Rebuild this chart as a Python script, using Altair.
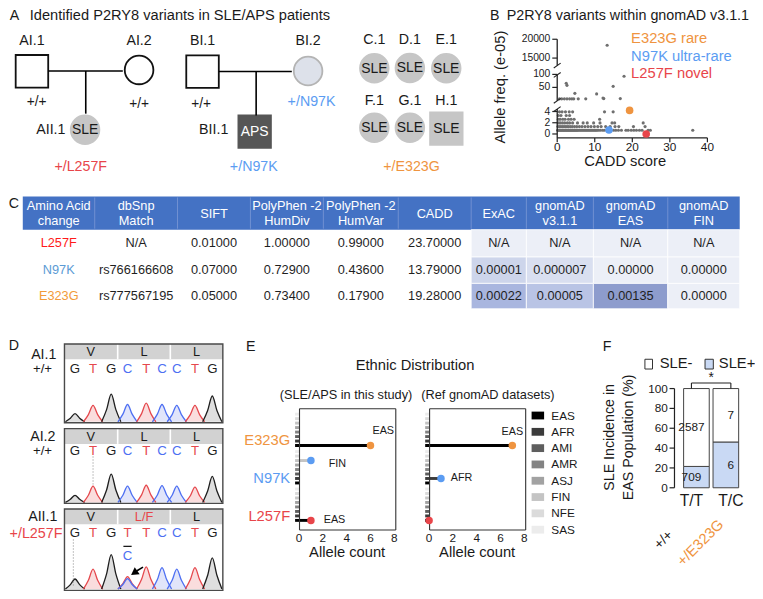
import altair as alt
import pandas as pd

# ======================= DATA =======================
# Panel A - pedigrees
pedigree_ids = ["AI.1", "AI.2", "AII.1", "BI.1", "BI.2", "BII.1",
                "C.1", "D.1", "E.1", "F.1", "G.1", "H.1"]
pedigree_sex = ["M", "F", "F", "M", "F", "M", "F", "F", "F", "F", "F", "M"]
pedigree_status = ["unaffected", "unaffected", "SLE", "unaffected", "carrier", "APS",
                   "SLE", "SLE", "SLE", "SLE", "SLE", "SLE"]
pedigree_parent_genotypes = ["+/+", "+/+", "+/+", "+/N97K"]
family_genotypes = ["+/L257F", "+/N97K", "+/E323G"]

# Panel B - gnomAD variants (CADD score, allele frequency e-05)
cadd_at_066 = [0.1, 0.3, 0.5, 0.7, 0.9, 1.1, 1.3, 1.5, 1.7, 1.9, 2.1, 2.3, 2.5, 2.7, 2.9,
               3.1, 3.3, 3.5, 3.7, 3.9, 4.1, 4.3, 4.5, 4.7, 4.9, 5.1, 5.3, 5.5, 5.8, 6.1,
               6.4, 6.7, 7.0, 7.3, 7.6, 7.9, 8.2, 8.5, 8.8, 9.1, 9.4, 9.7, 10.0, 10.3,
               10.6, 11.0, 11.5, 12.1, 12.6, 15.0, 15.6, 16.3, 17.1, 18.3, 18.9, 19.7,
               20.4, 21.1, 21.9, 22.6, 24.2, 24.8, 36.1]
cadd_at_131 = [0.2, 0.6, 1.0, 1.4, 1.8, 2.2, 2.6, 3.0, 3.5, 4.0, 4.6, 5.2, 5.9, 6.6, 7.4,
               8.2, 9.0, 9.9, 10.8, 11.7, 12.9, 14.1, 15.4, 16.4, 20.3, 23.4]
cadd_at_197 = [0.3, 0.8, 1.4, 2.0, 2.7, 3.3, 4.1, 5.4, 6.9, 8.0, 9.7, 11.4, 14.6, 15.3, 22.9]
cadd_at_263 = [0.3, 0.8, 1.5, 2.1, 3.0, 3.7, 4.5, 11.3]
cadd_at_329 = [0.3, 1.0, 2.4, 3.3]
cadd_at_394 = [0.6, 1.3, 2.2, 3.2, 4.1, 12.6, 14.9]
high_cadd = [0.6, 1.2, 1.9, 2.6, 3.3, 3.9, 4.4, 5.6, 7.6, 12.4, 16.8, 12.2, 10.5, 4.7,
             14.9, 2.6, 2.4, 17.8, 13.3]
high_freq = [6, 6, 6, 6, 6, 6, 6, 6, 6, 7, 7, 9, 25, 27, 54, 58, 66, 93, 18400]
variant_names = ["E323G", "N97K", "L257F"]
variant_cadd = [19.28, 13.79, 23.70]
variant_freq = [4.2, 0.7, 0.0]
variant_legend = ["E323G rare", "N97K ultra-rare", "L257F novel"]

# Panel C - table
table_header = ["Amino Acid\nchange", "dbSnp\nMatch", "SIFT", "PolyPhen -2\nHumDiv",
                "PolyPhen -2\nHumVar", "CADD", "ExAC", "gnomAD\nv3.1.1", "gnomAD\nEAS",
                "gnomAD\nFIN"]
t_variant = ["L257F", "N97K", "E323G"]
t_dbsnp = ["N/A", "rs766166608", "rs777567195"]
t_sift = ["0.01000", "0.07000", "0.05000"]
t_humdiv = ["1.00000", "0.72900", "0.73400"]
t_humvar = ["0.99000", "0.43600", "0.17900"]
t_cadd = ["23.70000", "13.79000", "19.28000"]
t_exac = ["N/A", "0.00001", "0.00022"]
t_gnomad = ["N/A", "0.000007", "0.00005"]
t_eas = ["N/A", "0.00000", "0.00135"]
t_fin = ["N/A", "0.00000", "0.00000"]

# Panel D - chromatograms
chrom_samples = ["AI.1", "AI.2", "AII.1"]
chrom_genotypes = ["+/+", "+/+", "+/L257F"]
base_calls = ["GTGCTCCTG", "GTGCTCCTG", "GTGTTCCTG"]
codon_labels = [["V", "L", "L"], ["V", "L", "L"], ["V", "L/F", "L"]]
peak_pos = [0.0, 1.05, 2.11, 3.06, 4.15, 5.07, 5.93, 6.99, 8.0]
peak_height = [[8.3, 16.7, 28.3, 17.7, 19.0, 17.7, 16.7, 16.7, 26.4],
               [7.3, 16.6, 29.0, 16.6, 17.6, 17.3, 16.6, 15.6, 26.6],
               [10.3, 20.3, 35.3, 12.7, 22.7, 22.0, 20.3, 22.0, 32.0]]
secondary_base = "C"
secondary_index = 3
secondary_height = 10.7

# Panel E - ethnic distribution
e_variants = ["E323G", "N97K", "L257F"]
populations = ["EAS", "AFR", "AMI", "AMR", "ASJ", "FIN", "NFE", "SAS"]
study_counts = [[6, 0, 0, 0, 0, 0, 0, 0], [0, 0, 0, 0, 0, 1, 0, 0], [1, 0, 0, 0, 0, 0, 0, 0]]
gnomad_counts = [[7, 0, 0, 0, 0, 0, 0, 0], [0, 1, 0, 0, 0, 0, 0, 0], [0, 0, 0, 0, 0, 0, 0, 0]]
e_ticks = [0, 2, 4, 6, 8]

# Panel F - SLE incidence
f_genotypes = ["T/T", "T/C"]
f_sle_neg = [2587, 7]
f_sle_pos = [709, 6]
f_ticks = [0, 20, 40, 60, 80, 100]

# ======================= LAYOUT / STYLE =======================
W, H = 747, 583
KX, KY = W / 758.0, H / 597.0
OX, OY = 2.0, 2.0
FONT = "Liberation Sans"
RED, BLUE, ORANGE = "#e8454a", "#5b9cf2", "#ef9440"
VCOL = {"E323G": ORANGE, "N97K": BLUE, "L257F": RED}


def X(v):
    return (v - OX) * KX


def Y(v):
    return (v - OY) * KY


def FS(v):
    return round(v * (KX + KY) / 2, 2)


def qs(domain, r0, r1, axis="x"):
    rng = [X(r0), X(r1)] if axis == "x" else [Y(r0), Y(r1)]
    return alt.Scale(domain=domain, range=rng, nice=False, zero=False)


CXS = qs([0, 763], 0, 763, "x")
CYS = qs([0, 599], 0, 599, "y")


def exy(xf="x", yf="y", xs=CXS, ys=CYS):
    return dict(x=alt.X(f"{xf}:Q", scale=xs, axis=None),
                y=alt.Y(f"{yf}:Q", scale=ys, axis=None))


layers = []


def add_text(rows, size, color="#1a1a1a", align="center", baseline="middle", angle=0, **kw):
    df = pd.DataFrame(rows, columns=["x", "y", "t"])
    layers.append(alt.Chart(df).mark_text(font=FONT, fontSize=FS(size), color=color,
                                          align=align, baseline=baseline, angle=angle, **kw)
                  .encode(**exy(), text="t:N"))


def add_rules(segs, color="#000000", width=1.5, dash=None, **kw):
    df = pd.DataFrame(segs, columns=["x", "y", "x2", "y2"])
    mk = dict(color=color, strokeWidth=width, **kw)
    if dash:
        mk["strokeDash"] = dash
    layers.append(alt.Chart(df).mark_rule(**mk).encode(**exy(), x2="x2:Q", y2="y2:Q"))


def add_rects(rows, stroke=None, width=0.0, **kw):
    df = pd.DataFrame(rows, columns=["x", "y", "x2", "y2", "fill"])
    mk = dict(strokeWidth=width, **kw)
    if stroke:
        mk["stroke"] = stroke
    layers.append(alt.Chart(df).mark_rect(**mk).encode(**exy(), x2="x2:Q", y2="y2:Q",
                                                       fill=alt.Fill("fill:N", scale=None)))


# ---------------- Panel A ----------------
add_text([(8.5, 10.5, "A")], 14.5)
add_text([(24.1, 10.5, "Identified P2RY8 variants in SLE/APS patients")], 14.9, align="left")

PED_POS = {"AI.1": (26.3, 66.8), "AI.2": (135.0, 65.4), "AII.1": (80.2, 126.7),
           "BI.1": (199.4, 67.2), "BI.2": (306.5, 66.5), "BII.1": (252.3, 128.6),
           "C.1": (373.7, 63.7), "D.1": (409.8, 63.4), "E.1": (446.7, 63.7),
           "F.1": (373.7, 124.7), "G.1": (409.8, 124.7), "H.1": (446.8, 125.5)}
ST_FILL = {"unaffected": "#ffffff", "SLE": "#c6c6c6", "carrier": "#dde1ea", "APS": "#565656"}
ST_STROKE = {"unaffected": "#111111", "SLE": "#c6c6c6", "carrier": "#b4b4b4", "APS": "#565656"}
SHAPE = {"M": "square", "F": "circle"}
SIZE = {"M": (33.0 * KX) ** 2, "F": 3.14159 * (16.4 * KX) ** 2}
prow = []
for pid, sx, st in zip(pedigree_ids, pedigree_sex, pedigree_status):
    x, y = PED_POS[pid]
    prow.append(dict(x=x, y=y, shape=SHAPE[sx], size=SIZE[sx], fill=ST_FILL[st], stroke=ST_STROKE[st]))
layers.append(alt.Chart(pd.DataFrame(prow)).mark_point(filled=True, opacity=1, strokeWidth=1.8)
              .encode(**exy(), shape=alt.Shape("shape:N", scale=None),
                      size=alt.Size("size:Q", scale=None),
                      fill=alt.Fill("fill:N", scale=None),
                      stroke=alt.Stroke("stroke:N", scale=None)))
add_rules([(43.0, 66.5, 118.5, 66.5), (80.9, 66.5, 80.9, 110.2),
           (216.0, 67.0, 290.0, 67.0), (253.8, 67.0, 253.8, 112.0)], width=1.6)
dis = [(PED_POS[p][0], PED_POS[p][1] + 0.5, "SLE") for p, s in zip(pedigree_ids, pedigree_status) if s == "SLE"]
add_text(dis, 14.2)
add_text([(PED_POS["BII.1"][0], PED_POS["BII.1"][1] + 0.5, "APS")], 14.2, color="#ffffff")
lab_above = []
for p in ["AI.1", "AI.2", "BI.1", "BI.2"]:
    lab_above.append((PED_POS[p][0], 36.2, p))
for p in ["C.1", "D.1", "E.1"]:
    lab_above.append((PED_POS[p][0], 34.4, p))
for p in ["F.1", "G.1", "H.1"]:
    lab_above.append((PED_POS[p][0], 97.1, p))
add_text(lab_above, 14.5)
add_text([(60.3, 127.4, "AII.1"), (225.6, 127.4, "BII.1")], 14.5, align="right")
add_text([(31.0, 98.2, pedigree_parent_genotypes[0]), (135.0, 99.9, pedigree_parent_genotypes[1]),
          (198.0, 99.9, pedigree_parent_genotypes[2])], 14)
add_text([(310.0, 98.2, pedigree_parent_genotypes[3])], 14.5, color=BLUE)
add_text([(75.8, 164.6, family_genotypes[0])], 14.5, color=RED)
add_text([(251.4, 164.6, family_genotypes[1])], 14.5, color=BLUE)
add_text([(411.5, 164.6, family_genotypes[2])], 14.5, color=ORANGE)

# ---------------- Panel B ----------------
add_text([(496.0, 10.5, "B")], 14.5)
add_text([(508.0, 10.5, "P2RY8 variants within gnomAD v3.1.1")], 14.6, align="left")
add_text([(502.0, 83.0, "Allele freq. (e-05)")], 15, angle=270)

B_X = qs([0, 40], 559.3, 711.7, "x")
B_SEG = {"low": ([0, 4.6], 131.0, 104.55), "mid": ([0, 100], 96.6, 70.0),
         "high": ([13000, 20000], 61.0, 34.0)}


def b_y(seg):
    d, r0, r1 = B_SEG[seg]
    return qs(d, r0, r1, "y")


brow = []
for f, xs in [(0.66, cadd_at_066), (1.31, cadd_at_131), (1.97, cadd_at_197),
              (2.63, cadd_at_263), (3.29, cadd_at_329), (3.94, cadd_at_394)]:
    for c in xs:
        brow.append(dict(cadd=c, freq=f))
for c, f in zip(high_cadd, high_freq):
    brow.append(dict(cadd=c, freq=f))
bdf = pd.DataFrame(brow)
bdf["seg"] = ["low" if f <= 4.6 else ("mid" if f <= 100 else "high") for f in bdf["freq"]]
for seg in ["low", "mid", "high"]:
    sub = bdf[bdf["seg"] == seg]
    layers.append(alt.Chart(sub).mark_circle(size=10, opacity=1, color="#6f6f6f")
                  .encode(**exy("cadd", "freq", B_X, b_y(seg))))
AXB = 559.3
add_rules([(AXB, 135.0, AXB, 105.5), (AXB, 97.0, AXB, 70.0), (AXB, 61.0, AXB, 34.0),
           (AXB, 135.0, 711.7, 135.0)], width=1.3, color="#222222")
add_rules([(AXB - 3.5, 108.0, AXB + 3.5, 103.0), (AXB - 3.5, 99.5, AXB + 3.5, 94.5),
           (AXB - 3.5, 73.0, AXB + 3.5, 68.0), (AXB - 3.5, 63.5, AXB + 3.5, 58.5)],
          width=1.1, color="#222222")
for seg, vals in [("low", [0, 2, 4]), ("mid", [50, 100]), ("high", [15000, 20000])]:
    tdf = pd.DataFrame({"v": vals, "t": [str(v) for v in vals]})
    layers.append(alt.Chart(tdf).mark_rule(color="#222222", strokeWidth=1.2)
                  .encode(y=alt.Y("v:Q", scale=b_y(seg), axis=None),
                          x=alt.value(X(AXB - 5)), x2=alt.value(X(AXB))))
    layers.append(alt.Chart(tdf).mark_text(font=FONT, fontSize=FS(10.5), align="right",
                                           baseline="middle", color="#1a1a1a")
                  .encode(y=alt.Y("v:Q", scale=b_y(seg), axis=None),
                          x=alt.value(X(AXB - 7)), text="t:N"))
xt = pd.DataFrame({"v": [0, 10, 20, 30, 40], "t": ["0", "10", "20", "30", "40"]})
layers.append(alt.Chart(xt).mark_rule(color="#222222", strokeWidth=1.2)
              .encode(x=alt.X("v:Q", scale=B_X, axis=None), y=alt.value(Y(135)), y2=alt.value(Y(139.5))))
layers.append(alt.Chart(xt).mark_text(font=FONT, fontSize=FS(12), baseline="middle", color="#1a1a1a")
              .encode(x=alt.X("v:Q", scale=B_X, axis=None), y=alt.value(Y(144.5)), text="t:N"))
add_text([(628.3, 160.0, "CADD score")], 15)
vdf = pd.DataFrame({"cadd": variant_cadd, "freq": variant_freq,
                    "c": [VCOL[v] for v in variant_names]})
layers.append(alt.Chart(vdf).mark_circle(size=58, opacity=1)
              .encode(**exy("cadd", "freq", B_X, b_y("low")), color=alt.Color("c:N", scale=None)))
for i, (lab, v) in enumerate(zip(variant_legend, variant_names)):
    add_text([(634.3, [34.0, 51.7, 70.0][i], lab)], 15, color=VCOL[v], align="left")

# ---------------- Panel C ----------------
add_text([(8.0, 203.0, "C")], 14.5)
CB = [17, 90, 174, 248, 322, 398, 472, 528, 596, 671.5, 744.5]
CR = [195, 229, 257, 284, 310]
add_rects([(CB[0], CR[0], CB[-1], CR[1], "#4472c4")])
add_rules([(b, CR[0] + 1, b, CR[1] - 1) for b in CB[1:-1]], color="#7b98d6", width=0.8)
hdr = []
hmid = (CR[0] + CR[1]) / 2 + 0.5
for i, h in enumerate(table_header):
    xc = (CB[i] + CB[i + 1]) / 2
    parts = h.split("\n")
    if len(parts) == 1:
        hdr.append((xc, hmid, parts[0]))
    else:
        hdr.append((xc, hmid - 7.3, parts[0]))
        hdr.append((xc, hmid + 7.3, parts[1]))
add_text(hdr, 13, color="#ffffff")
SHADE = {"N/A": "#eceff7", "0.00000": "#eceff7", "0.00001": "#cdd5eb", "0.000007": "#d9dff0",
         "0.00022": "#a9b6df", "0.00005": "#b9c4e5", "0.00135": "#8d9ccd"}
cols = [t_variant, t_dbsnp, t_sift, t_humdiv, t_humvar, t_cadd, t_exac, t_gnomad, t_eas, t_fin]
shade_rows = []
for r in range(3):
    for c in range(6, 10):
        shade_rows.append((CB[c], CR[r + 1], CB[c + 1], CR[r + 2], SHADE[cols[c][r]]))
add_rects(shade_rows, stroke="#ffffff", width=0.8)
TCOL = {"L257F": "#ff1a1a", "N97K": "#5b9bd5", "E323G": "#f29b3a"}
for r in range(3):
    yc = (CR[r + 1] + CR[r + 2]) / 2
    add_text([((CB[0] + CB[1]) / 2, yc, t_variant[r])], 13, color=TCOL[t_variant[r]])
    add_text([((CB[c] + CB[c + 1]) / 2, yc, cols[c][r]) for c in range(1, 10)], 13, color="#1f1f1f")

# ---------------- Panel D ----------------
add_text([(8.0, 348.3, "D")], 14.5)
BOX_L, BOX_R = 59.3, 220.0
BOXES = [(346.0, 426.7), (432.7, 509.3), (515.0, 598.5)]
BASELINE = [425.7, 508.3, 597.0]
LETTER_Y = [371.7, 455.7, 540.0]
D_X = qs([0, 8], 70.0, 209.3, "x")
BCOL = {"G": "#1e1e1e", "T": "#e5484d", "C": "#4d6ff2"}
BFILL = {"G": "#b9b9b9", "T": "#f3b4b4", "C": "#bcc6f5"}
SHAPE_DX = [-0.56, -0.27, 0.0, 0.27, 0.56]
SHAPE_FR = [0.0, 0.44, 1.0, 0.44, 0.0]
for b in range(3):
    top, bot = BOXES[b]
    d_y = qs([0, 40], BASELINE[b], BASELINE[b] - 40, "y")
    add_rects([(BOX_L, top, BOX_R, top + 15.7, "#d2d2d2")])
    add_rules([(113.3, top, 113.3, top + 15.7), (166.7, top, 166.7, top + 15.7)],
              color="#ffffff", width=1.6)
    for k, lab in enumerate(codon_labels[b]):
        add_text([([86.0, 140.0, 193.3][k], top + 8.3, lab)], 13,
                 color=(RED if "/" in lab else "#1a1a1a"))
    prow = []
    peaks = list(zip(range(9), base_calls[b], peak_height[b]))
    if b == 2:
        peaks.append((9, secondary_base, secondary_height))
    for pid, base, h in peaks:
        pos = peak_pos[secondary_index] if pid == 9 else peak_pos[pid]
        for dx, fr in zip(SHAPE_DX, SHAPE_FR):
            prow.append(dict(pid=pid, px=pos + dx, py=h * fr, fill=BFILL[base], col=BCOL[base]))
    pdf = pd.DataFrame(prow)
    layers.append(alt.Chart(pdf).mark_area(interpolate="monotone", fillOpacity=0.45)
                  .encode(x=alt.X("px:Q", scale=D_X, axis=None),
                          y=alt.Y("py:Q", scale=d_y, axis=None, stack=None),
                          detail="pid:N", fill=alt.Fill("fill:N", scale=None)))
    layers.append(alt.Chart(pdf).mark_line(interpolate="monotone", strokeWidth=1.3)
                  .encode(x=alt.X("px:Q", scale=D_X, axis=None),
                          y=alt.Y("py:Q", scale=d_y, axis=None),
                          detail="pid:N", stroke=alt.Stroke("col:N", scale=None)))
    ldf = pd.DataFrame({"p": peak_pos, "t": list(base_calls[b]),
                        "c": [BCOL[c] for c in base_calls[b]], "y": [LETTER_Y[b]] * 9})
    layers.append(alt.Chart(ldf).mark_text(font=FONT, fontSize=FS(13.5), baseline="middle")
                  .encode(x=alt.X("p:Q", scale=D_X, axis=None), y=alt.Y("y:Q", scale=CYS, axis=None),
                          text="t:N", color=alt.Color("c:N", scale=None)))
    add_rects([(BOX_L, top, BOX_R, bot, "transparent")], stroke="#4a4a4a", width=1.4)
add_rules([(88.3, 461.0, 88.3, 490.0), (68.3, 546.0, 68.3, 594.0)], color="#9a9a9a", width=0.8,
          dash=[1.5, 1.5])
sdf = pd.DataFrame({"p": [peak_pos[secondary_index]], "t": [secondary_base], "y": [563.3],
                    "a": [peak_pos[secondary_index] - 0.24], "b": [peak_pos[secondary_index] + 0.24],
                    "yl": [553.3]})
layers.append(alt.Chart(sdf).mark_text(font=FONT, fontSize=FS(13.5), color=BCOL["C"], baseline="middle")
              .encode(x=alt.X("p:Q", scale=D_X, axis=None), y=alt.Y("y:Q", scale=CYS, axis=None), text="t:N"))
layers.append(alt.Chart(sdf).mark_rule(color="#1a1a1a", strokeWidth=1.3)
              .encode(x=alt.X("a:Q", scale=D_X, axis=None), x2="b:Q", y=alt.Y("yl:Q", scale=CYS, axis=None)))
add_rules([(132.5, 578.5, 139.0, 574.5)], width=1.6)
adf = pd.DataFrame({"x": [130.0], "y": [580.5]})
layers.append(alt.Chart(adf).mark_point(shape="triangle-up", angle=235, size=75, filled=True,
                                        opacity=1, color="#000000").encode(**exy()))
add_text([(38.3, 357.8, chrom_samples[0]), (37.3, 441.8, chrom_samples[1]),
          (37.3, 523.5, chrom_samples[2])], 14.5)
add_text([(37.0, 372.0, chrom_genotypes[0]), (37.0, 456.0, chrom_genotypes[1])], 13.5)
add_text([(57.3, 540.5, chrom_genotypes[2])], 14.6, color=RED, align="right")

# ---------------- Panel E ----------------
add_text([(248.3, 349.3, "E")], 14.5)
add_text([(415.0, 368.3, "Ethnic Distribution")], 15)
add_text([(345.0, 398.3, "(SLE/APS in this study)"), (489.0, 398.3, "(Ref gnomAD datasets)")], 13)
POPCOL = ["#000000", "#3b3b3b", "#5e5e5e", "#838383", "#a2a2a2", "#c4c4c4", "#dbdbdb", "#ececec"]
E_Y = qs([0, 23.7], 417.9, 526.7, "y")
E_BOT = 536.5
LABEL_OFF = {
    (0, "E323G"): ("left", 2.0, -15.0), (0, "N97K"): ("left", 18.0, 3.5),
    (0, "L257F"): ("left", 13.0, -0.5), (1, "E323G"): ("center", 0.0, -14.0),
    (1, "N97K"): ("left", 10.0, -0.5)}
for k, (counts, x0, x8) in enumerate([(study_counts, 297.3, 394.0), (gnomad_counts, 429.3, 525.8)]):
    exs = qs([0, 8], x0, x8, "x")
    rows, dots = [], []
    for g, v in enumerate(e_variants):
        for p, pop in enumerate(populations):
            slot = g * 8.35 + (7 - p)
            rows.append(dict(start=-0.33, count=counts[g][p], slot=slot, col=POPCOL[p]))
            if counts[g][p] > 0 or (sum(counts[g]) == 0 and p == 0):
                dots.append(dict(v=v, count=counts[g][p], slot=slot, pop=pop, col=VCOL[v]))
    rdf = pd.DataFrame(rows)
    layers.append(alt.Chart(rdf).mark_rule(strokeWidth=2.9, strokeCap="butt")
                  .encode(x=alt.X("start:Q", scale=exs, axis=None), x2="count:Q",
                          y=alt.Y("slot:Q", scale=E_Y, axis=None),
                          stroke=alt.Stroke("col:N", scale=None)))
    add_rules([(x0 + 0.5, 412.3, x0 + 0.5, E_BOT), (x0 + 0.5, 412.3, x8 + 1.5, 412.3),
               (x8 + 1.5, 412.3, x8 + 1.5, E_BOT), (x0 + 0.5, E_BOT, x8 + 1.5, E_BOT)],
              color="#333333", width=1.1)
    ddf = pd.DataFrame(dots)
    layers.append(alt.Chart(ddf).mark_circle(size=56, opacity=1)
                  .encode(x=alt.X("count:Q", scale=exs, axis=None), y=alt.Y("slot:Q", scale=E_Y, axis=None),
                          color=alt.Color("col:N", scale=None)))
    for d in dots:
        key = (k, d["v"])
        if key in LABEL_OFF:
            al, dx, dy = LABEL_OFF[key]
            one = pd.DataFrame([d])
            layers.append(alt.Chart(one).mark_text(font=FONT, fontSize=FS(11), align=al, baseline="middle",
                                                   dx=dx * KX, dy=dy * KY, color="#1a1a1a")
                          .encode(x=alt.X("count:Q", scale=exs, axis=None),
                                  y=alt.Y("slot:Q", scale=E_Y, axis=None), text="pop:N"))
    tdf = pd.DataFrame({"v": e_ticks, "t": [str(t) for t in e_ticks]})
    layers.append(alt.Chart(tdf).mark_text(font=FONT, fontSize=FS(12), baseline="middle", color="#1a1a1a")
                  .encode(x=alt.X("v:Q", scale=exs, axis=None), y=alt.value(Y(544.5)), text="t:N"))
    add_text([((x0 + x8) / 2 + 0.5, 560.0, "Allele count")], 15)
add_text([(288.3, 445.0, e_variants[0])], 15, color=ORANGE, align="right")
add_text([(288.3, 484.0, e_variants[1])], 15, color=BLUE, align="right")
add_text([(288.3, 523.3, e_variants[2])], 15, color=RED, align="right")
leg = []
for i, pop in enumerate(populations):
    yc = 419.3 + 16.7 * i
    leg.append((533.3, yc - 4.0, 546.0, yc + 4.0, POPCOL[i]))
add_rects(leg)
add_text([(553.3, 419.3 + 16.7 * i, pop) for i, pop in enumerate(populations)], 12, align="left")

# ---------------- Panel F ----------------
add_text([(610.0, 349.3, "F")], 14.5)
FFILL = {"SLE-": "#ffffff", "SLE+": "#c9d9f4"}
add_rects([(648.3, 361.7, 656.0, 371.7, FFILL["SLE-"]), (709.3, 361.7, 717.7, 371.7, FFILL["SLE+"])],
          stroke="#333333", width=1.0)
add_text([(663.3, 366.7, "SLE-"), (723.3, 366.7, "SLE+")], 15, align="left")
F_X = qs([0, 1], 695.5, 735.5, "x")
F_Y = qs([0, 1], 493.3, 391.7, "y")
F_Y100 = qs([0, 100], 493.3, 391.7, "y")
frows = []
for i, g in enumerate(f_genotypes):
    frows.append(dict(geno=g, gi=i, status="SLE+", order=0, n=f_sle_pos[i], fill=FFILL["SLE+"]))
    frows.append(dict(geno=g, gi=i, status="SLE-", order=1, n=f_sle_neg[i], fill=FFILL["SLE-"]))
fbase = (alt.Chart(pd.DataFrame(frows))
         .transform_joinaggregate(total="sum(n)", groupby=["geno"])
         .transform_calculate(frac="datum.n / datum.total")
         .transform_stack(stack="frac", groupby=["geno"], as_=["f0", "f1"],
                          sort=[alt.SortField("order", order="ascending")])
         .transform_calculate(fm="(datum.f0 + datum.f1) / 2"))
layers.append(fbase.mark_bar(size=26 * KX, stroke="#444444", strokeWidth=1.0)
              .encode(x=alt.X("gi:Q", scale=F_X, axis=None), y=alt.Y("f0:Q", scale=F_Y, axis=None),
                      y2="f1:Q", fill=alt.Fill("fill:N", scale=None)))
layers.append(fbase.mark_text(font=FONT, fontSize=FS(12), baseline="middle", color="#1a1a1a")
              .encode(x=alt.X("gi:Q", scale=F_X, axis=None), y=alt.Y("fm:Q", scale=F_Y, axis=None),
                      text="n:Q"))
add_rules([(678.3, 391.7, 678.3, 493.3)], color="#222222", width=1.2)
ftd = pd.DataFrame({"v": f_ticks, "t": [str(t) for t in f_ticks]})
layers.append(alt.Chart(ftd).mark_rule(color="#222222", strokeWidth=1.2)
              .encode(y=alt.Y("v:Q", scale=F_Y100, axis=None), x=alt.value(X(673.3)), x2=alt.value(X(678.3))))
layers.append(alt.Chart(ftd).mark_text(font=FONT, fontSize=FS(12), align="right", baseline="middle",
                                       color="#1a1a1a")
              .encode(y=alt.Y("v:Q", scale=F_Y100, axis=None), x=alt.value(X(671.5)), text="t:N"))
fx = pd.DataFrame({"gi": [0, 1], "t": f_genotypes})
layers.append(alt.Chart(fx).mark_text(font=FONT, fontSize=FS(16), baseline="middle", color="#1a1a1a")
              .encode(x=alt.X("gi:Q", scale=F_X, axis=None), y=alt.value(Y(506.7)), text="t:N"))
add_text([(613.3, 441.7, "SLE Incidence in"), (631.7, 441.7, "EAS Population (%)")], 14.5, angle=270)
add_rules([(695.5, 391.7, 695.5, 386.0), (695.5, 386.0, 735.5, 386.0), (735.5, 386.0, 735.5, 391.7)],
          color="#222222", width=1.1)
add_text([(715.5, 380.5, "*")], 14)
add_text([(667.3, 546.7, "+/+")], 14, angle=315)
add_text([(705.0, 550.0, "+/E323G")], 15, color=ORANGE, angle=315)

chart = (alt.layer(*layers)
         .resolve_scale(x="independent", y="independent")
         .properties(width=W, height=H, autosize=alt.AutoSizeParams(type="none"), padding=0,
                     background="#ffffff")
         .configure_view(strokeWidth=0))
chart.save("out.html", embed_options={"renderer": "svg", "actions": False})
